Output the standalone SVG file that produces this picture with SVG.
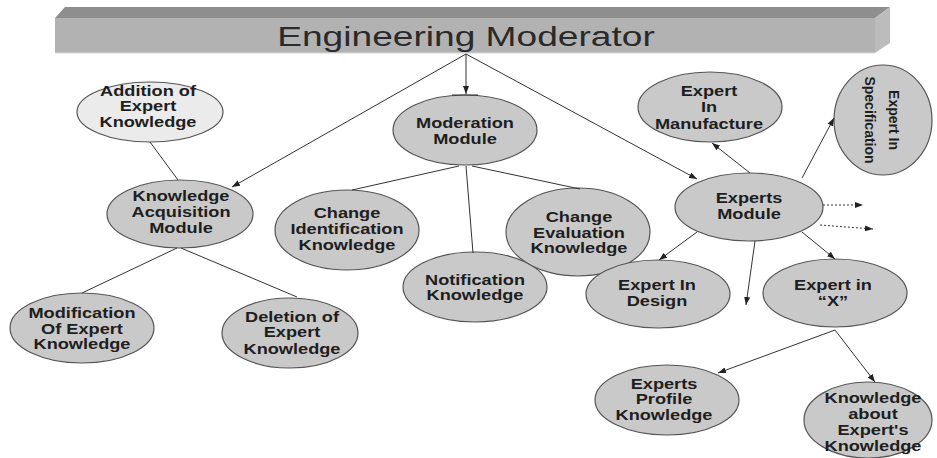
<svg xmlns="http://www.w3.org/2000/svg" width="937" height="458" viewBox="0 0 937 458">
<defs>
<marker id="ah" viewBox="0 0 8 6" refX="8" refY="3" markerWidth="8" markerHeight="6" markerUnits="userSpaceOnUse" orient="auto">
<path d="M0,0 L8,3 L0,6 z" fill="#222"/>
</marker>
</defs>
<style>
.n{fill:#c9c9c9;stroke:#555;stroke-width:1.2}
.l{fill:#ebebeb;stroke:#555;stroke-width:1.2}
.t{font-family:"Liberation Sans",Arial,sans-serif;font-weight:bold;font-size:14px;fill:#1e1e1e;text-anchor:middle}
.c{fill:none;stroke:#333;stroke-width:1}
.a{marker-end:url(#ah)}
.d{stroke-dasharray:2 2}
</style>
<rect width="937" height="458" fill="#fff"/>
<g id="title">
<polygon points="55,18 65,7 890,7 875,18" fill="#8e8e8e"/>
<rect x="55" y="18" width="820" height="35" fill="#b2b2b2"/>
<polygon points="875,18 890,7 890,43 875,53" fill="#bcbcbc"/>
<line x1="55" y1="53" x2="875" y2="53" stroke="#d8d8d8" stroke-width="1"/>
<text transform="translate(466 46) scale(1.35 1)" x="0" y="0" style="font-family:'Liberation Sans',Arial,sans-serif;font-size:27.5px;fill:#2a2a2a;text-anchor:middle">Engineering Moderator</text>
</g>
<g id="addition">
<ellipse class="l" cx="150" cy="112" rx="73" ry="30"/>
<text class="t" transform="translate(148 0) scale(1.3 1)"><tspan x="0" y="96">Addition of</tspan><tspan x="0" y="111">Expert</tspan><tspan x="0" y="127">Knowledge</tspan></text>
</g>
<g id="kam">
<ellipse class="n" cx="180" cy="214" rx="73" ry="34"/>
<text class="t" transform="translate(181 0) scale(1.3 1)"><tspan x="0" y="201">Knowledge</tspan><tspan x="0" y="217">Acquisition</tspan><tspan x="0" y="233">Module</tspan></text>
</g>
<g id="moderation">
<ellipse class="n" cx="465" cy="130" rx="72" ry="35"/>
<text class="t" transform="translate(465 0) scale(1.3 1)"><tspan x="0" y="128">Moderation</tspan><tspan x="0" y="144">Module</tspan></text>
</g>
<g id="changeId">
<ellipse class="n" cx="347" cy="230" rx="72" ry="40"/>
<text class="t" transform="translate(347 0) scale(1.3 1)"><tspan x="0" y="218">Change</tspan><tspan x="0" y="234">Identification</tspan><tspan x="0" y="250">Knowledge</tspan></text>
</g>
<g id="notification">
<ellipse class="n" cx="475" cy="287" rx="72" ry="35"/>
<text class="t" transform="translate(475 0) scale(1.3 1)"><tspan x="0" y="285">Notification</tspan><tspan x="0" y="300">Knowledge</tspan></text>
</g>
<g id="changeEval">
<ellipse class="n" cx="578" cy="232" rx="72" ry="44"/>
<text class="t" transform="translate(579 0) scale(1.3 1)"><tspan x="0" y="222">Change</tspan><tspan x="0" y="238">Evaluation</tspan><tspan x="0" y="253">Knowledge</tspan></text>
</g>
<g id="manufacture">
<ellipse class="n" cx="710" cy="107" rx="72" ry="35"/>
<text class="t" transform="translate(709 0) scale(1.3 1)"><tspan x="0" y="96">Expert</tspan><tspan x="0" y="112">In</tspan><tspan x="0" y="129">Manufacture</tspan></text>
</g>
<g id="specification">
<ellipse class="n" cx="883" cy="120" rx="49" ry="55"/>
<text class="t" transform="translate(877 120) rotate(90)"><tspan x="0" y="-12">Expert In</tspan><tspan x="0" y="12">Specification</tspan></text>
</g>
<g id="experts">
<ellipse class="n" cx="749" cy="207" rx="74" ry="34"/>
<text class="t" transform="translate(749 0) scale(1.3 1)"><tspan x="0" y="203">Experts</tspan><tspan x="0" y="219">Module</tspan></text>
</g>
<g id="design">
<ellipse class="n" cx="658" cy="294" rx="72" ry="34"/>
<text class="t" transform="translate(657 0) scale(1.3 1)"><tspan x="0" y="290">Expert In</tspan><tspan x="0" y="306">Design</tspan></text>
</g>
<g id="expertX">
<ellipse class="n" cx="835" cy="293" rx="72" ry="34"/>
<text class="t" transform="translate(833 0) scale(1.3 1)"><tspan x="0" y="290">Expert in</tspan><tspan x="0" y="306">“X”</tspan></text>
</g>
<g id="profile">
<ellipse class="n" cx="667" cy="400" rx="72" ry="35"/>
<text class="t" transform="translate(664 0) scale(1.3 1)"><tspan x="0" y="389">Experts</tspan><tspan x="0" y="404">Profile</tspan><tspan x="0" y="420">Knowledge</tspan></text>
</g>
<g id="aboutKnowledge">
<ellipse class="n" cx="868" cy="420" rx="64" ry="38"/>
<text class="t" transform="translate(873 0) scale(1.3 1)"><tspan x="0" y="403">Knowledge</tspan><tspan x="0" y="419">about</tspan><tspan x="0" y="435">Expert's</tspan><tspan x="0" y="451">Knowledge</tspan></text>
</g>
<g id="modification">
<ellipse class="n" cx="82" cy="328" rx="72" ry="35"/>
<text class="t" transform="translate(82 0) scale(1.3 1)"><tspan x="0" y="318">Modification</tspan><tspan x="0" y="334">Of Expert</tspan><tspan x="0" y="349">Knowledge</tspan></text>
</g>
<g id="deletion">
<ellipse class="n" cx="290" cy="333" rx="68" ry="35"/>
<text class="t" transform="translate(292 0) scale(1.3 1)"><tspan x="0" y="322">Deletion of</tspan><tspan x="0" y="337">Expert</tspan><tspan x="0" y="354">Knowledge</tspan></text>
</g>
<g id="connectors">
<path class="c a" d="M466,54 L232,187"/>
<path class="c a" d="M466,54 L466,94"/>
<path class="c" d="M452,95 L478,95" stroke-width="1.6"/>
<path class="c a" d="M466,54 L697,179"/>
<path class="c" d="M150,142 L178,180"/>
<path class="c" d="M177,248 L82,293"/>
<path class="c" d="M181,248 L297,297"/>
<path class="c" d="M459,166 L352,190"/>
<path class="c" d="M466,166 L473,253"/>
<path class="c" d="M472,166 L580,189"/>
<path class="c a" d="M750,173 L712,143"/>
<path class="c a" d="M802,178 L834,118"/>
<path class="c a d" d="M823,205 L863,205"/>
<path class="c a d" d="M820,225 L873,229"/>
<path class="c a" d="M697,232 L659,260"/>
<path class="c a" d="M755,241 L746,305"/>
<path class="c a" d="M802,232 L835,259"/>
<path class="c a" d="M835,330 L718,373"/>
<path class="c a" d="M835,330 L875,382"/>
</g>
</svg>
